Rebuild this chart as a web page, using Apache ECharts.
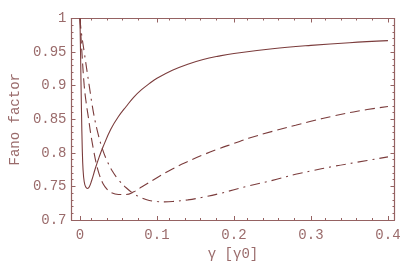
<!DOCTYPE html>
<html>
<head>
<meta charset="utf-8">
<script src="https://cdn.jsdelivr.net/npm/echarts@6/dist/echarts.min.js"></script>
<style>html,body{margin:0;padding:0;background:#fff}#c{width:409px;height:266px}</style>
</head>
<body>
<div id="c"></div>
<script>
// Data
const solidCurve = [[0,1.0],[0.001,0.93],[0.002,0.86],[0.003,0.805],[0.004,0.775],[0.0055,0.757],[0.0075,0.749],[0.0098,0.747],[0.012,0.749],[0.015,0.758],[0.02,0.777],[0.025,0.794],[0.03,0.809],[0.04,0.835],[0.05,0.854],[0.06,0.869],[0.07,0.883],[0.08,0.894],[0.09,0.903],[0.1,0.911],[0.12,0.923],[0.14,0.932],[0.16,0.939],[0.18,0.944],[0.2,0.948],[0.25,0.955],[0.3,0.960],[0.35,0.964],[0.4,0.967]];
const dashedCurve = [[0,1.0],[0.0025,0.95],[0.0055,0.9],[0.008,0.875],[0.011,0.852],[0.014,0.828],[0.0175,0.805],[0.021,0.785],[0.025,0.768],[0.03,0.754],[0.035,0.746],[0.04,0.741],[0.05,0.738],[0.06,0.738],[0.07,0.742],[0.08,0.749],[0.1,0.763],[0.12,0.776],[0.14,0.787],[0.16,0.797],[0.18,0.806],[0.2,0.814],[0.22,0.822],[0.25,0.832],[0.28,0.841],[0.3,0.847],[0.33,0.855],[0.36,0.862],[0.4,0.869]];
const dashDotCurve = [[0,1.0],[0.0017,0.98],[0.0055,0.95],[0.012,0.9],[0.018,0.857],[0.024,0.826],[0.03,0.803],[0.036,0.786],[0.042,0.773],[0.05,0.76],[0.06,0.748],[0.07,0.739],[0.08,0.733],[0.09,0.729],[0.1,0.7275],[0.11,0.727],[0.12,0.7275],[0.14,0.73],[0.16,0.734],[0.18,0.739],[0.2,0.745],[0.22,0.751],[0.25,0.759],[0.28,0.768],[0.3,0.773],[0.33,0.78],[0.36,0.786],[0.4,0.794]];
const xMajorTicks = [0, 0.1, 0.2, 0.3, 0.4];
const xMinorTicks = [0.02,0.04,0.06,0.08,0.12,0.14,0.16,0.18,0.22,0.24,0.26,0.28,0.32,0.34,0.36,0.38];
const xTitle = 'γ [γ0]';
const yTitle = 'Fano factor';

const frameColor = '#956262';
const textColor = '#9a6b6b';
const curveColor = '#7b3c3c';
const font = 'Liberation Mono';
const gridBox = {left: 67, right: 14.5, top: 18.5, bottom: 46};
const xMin = -0.011, xMax = 0.4085;

function xAxisDef(gridIndex, position, ticks, len, labels, line) {
  return {
    type: 'value', gridIndex, position, min: xMin, max: xMax,
    splitLine: {show: false},
    axisLine: {show: line, onZero: false, lineStyle: {color: frameColor, width: 1.2}},
    axisTick: {show: true, inside: true, length: len, customValues: ticks, lineStyle: {color: frameColor, width: 1}},
    axisLabel: labels ? {show: true, customValues: ticks, color: textColor, fontFamily: font, fontSize: 14, margin: 8} : {show: false},
    name: labels ? xTitle : '', nameLocation: 'middle', nameGap: 25,
    nameTextStyle: {color: textColor, fontFamily: font, fontSize: 14}
  };
}
function yAxisDef(gridIndex, position, labels, show) {
  return {
    type: 'value', gridIndex, position, min: 0.7, max: 1.0, interval: 0.05, show,
    splitLine: {show: false},
    axisLine: {show: true, onZero: false, lineStyle: {color: frameColor, width: 1.2}},
    axisTick: {show: true, inside: true, length: 4, lineStyle: {color: frameColor, width: 1}},
    minorTick: {show: true, splitNumber: 5, length: 2, lineStyle: {color: frameColor, width: 1}},
    axisLabel: labels ? {show: true, color: textColor, fontFamily: font, fontSize: 14, margin: 5} : {show: false},
    name: labels ? yTitle : '', nameLocation: 'middle', nameGap: 46,
    nameTextStyle: {color: textColor, fontFamily: font, fontSize: 14}
  };
}

const chart = echarts.init(document.getElementById('c'), null, {renderer: 'canvas'});
chart.setOption({
  animation: false,
  backgroundColor: '#ffffff',
  grid: [Object.assign({}, gridBox), Object.assign({}, gridBox)],
  xAxis: [
    xAxisDef(0, 'bottom', xMajorTicks, 4, true, true),
    xAxisDef(0, 'top', xMajorTicks, 4, false, true),
    xAxisDef(1, 'bottom', xMinorTicks, 2, false, false),
    xAxisDef(1, 'top', xMinorTicks, 2, false, false)
  ],
  yAxis: [
    yAxisDef(0, 'left', true, true),
    yAxisDef(0, 'right', false, true),
    yAxisDef(1, 'left', false, false)
  ],
  series: [
    {type: 'line', xAxisIndex: 0, yAxisIndex: 0, data: solidCurve, showSymbol: false, smooth: 0.4,
     lineStyle: {color: curveColor, width: 1.1}},
    {type: 'line', xAxisIndex: 0, yAxisIndex: 0, data: dashedCurve, showSymbol: false, smooth: 0.4,
     lineStyle: {color: curveColor, width: 1.1, type: [10, 5]}},
    {type: 'line', xAxisIndex: 0, yAxisIndex: 0, data: dashDotCurve, showSymbol: false, smooth: 0.4,
     lineStyle: {color: curveColor, width: 1.1, type: [10, 5, 2, 5]}}
  ]
});
</script>
</body>
</html>
